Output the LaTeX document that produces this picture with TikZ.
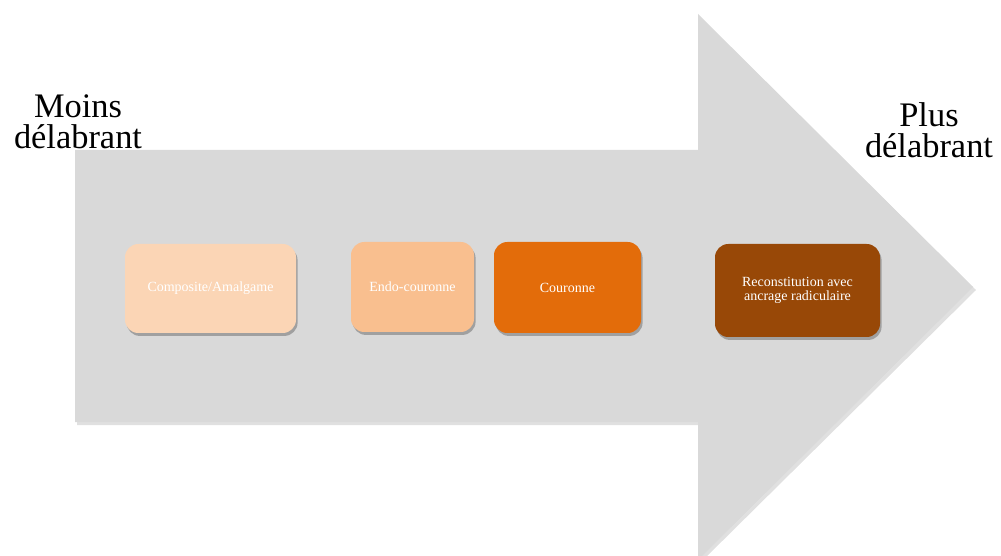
\documentclass[tikz,border=0pt]{standalone}
\usepackage{fontspec}
\setmainfont{Liberation Serif}
\usetikzlibrary{shadows}

\definecolor{arrowgrey}{HTML}{D9D9D9}
\definecolor{peachA}{HTML}{FBD5B5}
\definecolor{peachB}{HTML}{F9BF8F}
\definecolor{orangeC}{HTML}{E36C0A}
\definecolor{brownD}{HTML}{984807}

\tikzset{
  stage/.style={rounded corners=10pt, fill=#1, text=white, align=center,
    font=\fontsize{10.5}{11}\selectfont, inner sep=0pt,
    drop shadow={shadow xshift=1.2pt, shadow yshift=-2.2pt, opacity=0.4, fill=black!70}},
  endlabel/.style={align=center, font=\fontsize{25.8}{23.5}\selectfont}
}

\begin{document}
\begin{tikzpicture}[x=0.75pt,y=0.75pt,yscale=-1,xscale=1]
\useasboundingbox (0,0) rectangle (1001,556);

% Shape: Right Arrow
\fill [black, opacity=0.12] (77,153) -- (700,153) -- (700,17) -- (976,290) -- (700,563) -- (700,425) -- (77,425) -- cycle ;
\fill [arrowgrey] (75,150) -- (698,150) -- (698,14) -- (973,287) -- (698,560) -- (698,422) -- (75,422) -- cycle ;

% Text Node
\node [endlabel] (moins) at (78,122) {Moins\\délabrant};
% Text Node
\node [endlabel] (plus) at (929,130) {Plus\\délabrant};

% Rounded Rect
\node [stage=peachA, minimum width=128.25pt, minimum height=66.75pt] (composite) at (210.5,288.5) {Composite/Amalgame};
% Rounded Rect
\node [stage=peachB, minimum width=92.25pt, minimum height=67.5pt] (endo) at (412.5,287) {Endo-couronne};
% Rounded Rect
\node [stage=orangeC, minimum width=110.25pt, minimum height=68.25pt] (couronne) at (567.5,287.5) {Couronne};
% Rounded Rect
\node [stage=brownD, minimum width=123.75pt, minimum height=69.75pt] (reconst) at (797.5,290.5) {Reconstitution avec\\ancrage radiculaire};

\end{tikzpicture}
\end{document}
